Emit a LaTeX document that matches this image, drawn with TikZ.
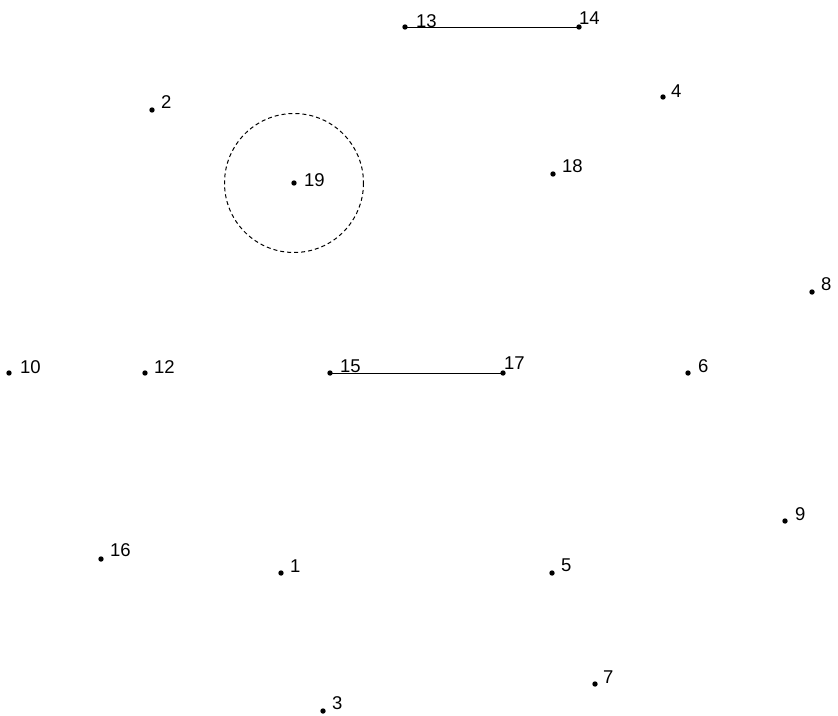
\documentclass[tikz,border=0pt]{standalone}
\usepackage{fontspec}
\setmainfont{Liberation Sans}
\begin{document}
\begin{tikzpicture}[x=1pt,y=-1pt,
  pt/.style={circle,fill=black,inner sep=0pt,minimum size=5.4pt},
  lbl/.style={anchor=base west,inner sep=0pt,font=\fontsize{18.5}{18.5}\selectfont},
  seg/.style={draw=black,line width=1pt},
  ring/.style={draw=black,line width=1pt,dash pattern=on 4pt off 3pt}]
\useasboundingbox (0,0) rectangle (838,715);
% points
\node[pt] (p1) at (281,573) {};
\node[pt] (p2) at (152,110) {};
\node[pt] (p3) at (323,711) {};
\node[pt] (p4) at (663,97) {};
\node[pt] (p5) at (552,573) {};
\node[pt] (p6) at (688,373) {};
\node[pt] (p7) at (595,684) {};
\node[pt] (p8) at (812,292) {};
\node[pt] (p9) at (785,521) {};
\node[pt] (p10) at (9,373) {};
\node[pt] (p12) at (145,373) {};
\node[pt] (p13) at (405,27) {};
\node[pt] (p14) at (579,27) {};
\node[pt] (p15) at (330,373) {};
\node[pt] (p16) at (101,559) {};
\node[pt] (p17) at (503,373) {};
\node[pt] (p18) at (553,174) {};
\node[pt] (p19) at (294,183) {};
% labels
\node[lbl] (l1) at (290,572) {1};
\node[lbl] (l2) at (161,108) {2};
\node[lbl] (l3) at (332,709) {3};
\node[lbl] (l4) at (671,97) {4};
\node[lbl] (l5) at (561,571) {5};
\node[lbl] (l6) at (698,372) {6};
\node[lbl] (l7) at (603,683) {7};
\node[lbl] (l8) at (821,290) {8};
\node[lbl] (l9) at (795,520) {9};
\node[lbl] (l10) at (20,373) {10};
\node[lbl] (l12) at (154,373) {12};
\node[lbl] (l13) at (416,27) {13};
\node[lbl] (l14) at (579,24) {14};
\node[lbl] (l15) at (340,372) {15};
\node[lbl] (l16) at (110,556) {16};
\node[lbl] (l17) at (504,369) {17};
\node[lbl] (l18) at (562,172) {18};
\node[lbl] (l19) at (304,186) {19};
% connectors
\draw[seg] (p13.center) -- (p14.center);
\draw[seg] (p15.center) -- (p17.center);
\draw[ring] (p19.center) circle[radius=69.5];
\end{tikzpicture}
\end{document}
